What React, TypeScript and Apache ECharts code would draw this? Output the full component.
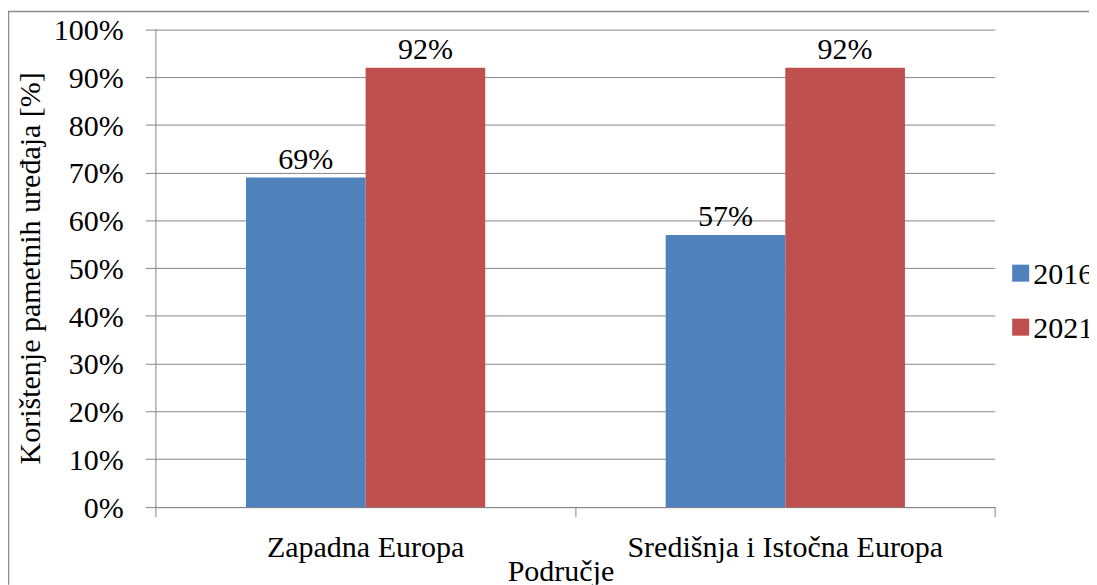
import React, { useEffect, useRef } from "react";
import * as echarts from "echarts";

const categories = ["Zapadna Europa", "Središnja i Istočna Europa"];
const series2016 = [69, 57];
const series2021 = [92, 92];
const seriesNames = ["2016", "2021"];
const yAxisTitle = "Korištenje pametnih uređaja [%]";
const xAxisTitle = "Područje";

const FONT = "Liberation Serif";
const GRID = "#868686";
// render at 1.2x and scale down with CSS so serif fonts are used at 36px
const S = 1.2;
const W = 1089;
const H = 577;
const FS = 30 * S;

export default function App() {
  const ref = useRef<HTMLDivElement>(null);
  useEffect(() => {
    if (!ref.current) return;
    const chart = echarts.init(ref.current, undefined, { renderer: "svg" });
    const lbl = {
      show: true,
      position: "top",
      distance: 4 * S,
      formatter: "{c}%",
      fontFamily: FONT,
      fontSize: FS,
      color: "#000",
    };
    chart.setOption({
      animation: false,
      grid: { left: 147 * S, right: 102 * S, top: 21.5 * S, bottom: 77.5 * S, containLabel: false },
      legend: {
        orient: "vertical",
        left: 1000 * S,
        top: 246 * S,
        itemWidth: 17 * S,
        itemHeight: 17 * S,
        itemGap: 24 * S,
        itemTextGap: 5 * S,
        icon: "rect",
        textStyle: { fontFamily: FONT, fontSize: FS, color: "#000" },
        data: seriesNames,
      },
      xAxis: {
        type: "category",
        data: categories,
        boundaryGap: true,
        axisLine: { lineStyle: { color: GRID, width: S } },
        axisTick: { show: true, length: 10 * S, lineStyle: { color: GRID, width: S } },
        axisLabel: { fontFamily: FONT, fontSize: FS, color: "#000", margin: 24 * S, interval: 0 },
        splitLine: { show: false },
      },
      yAxis: {
        type: "value",
        min: 0,
        max: 100,
        interval: 10,
        name: yAxisTitle,
        nameLocation: "middle",
        nameGap: 102 * S,
        nameTextStyle: { fontFamily: FONT, fontSize: FS, color: "#000" },
        axisLine: { show: true, lineStyle: { color: GRID, width: S } },
        axisTick: { show: true, length: 10 * S, lineStyle: { color: GRID, width: S } },
        axisLabel: { fontFamily: FONT, fontSize: FS, color: "#000", margin: 32 * S, formatter: "{value}%" },
        splitLine: { show: true, lineStyle: { color: GRID, width: S } },
      },
      graphic: [
        {
          type: "rect",
          shape: { x: 0.5 * S, y: 3.5 * S, width: 1100 * S, height: 600 * S },
          style: { fill: "none", stroke: "#8c8c8c", lineWidth: 1.5 * S },
          silent: true,
        },
        {
          type: "text",
          x: 553 * S,
          y: 562 * S,
          style: {
            text: xAxisTitle,
            fontFamily: FONT,
            fontSize: FS,
            fill: "#000",
            align: "center",
            verticalAlign: "middle",
          },
        },
      ],
      series: [
        {
          name: seriesNames[0],
          type: "bar",
          data: series2016,
          barGap: "0%",
          barCategoryGap: "43%",
          itemStyle: { color: "#4F81BD" },
          label: lbl,
        },
        {
          name: seriesNames[1],
          type: "bar",
          data: series2021,
          barGap: "0%",
          barCategoryGap: "43%",
          itemStyle: { color: "#C0504D" },
          label: lbl,
        },
      ],
    });
    return () => chart.dispose();
  }, []);
  return (
    <div style={{ width: W, height: H, overflow: "hidden", position: "relative" }}>
      <div
        ref={ref}
        style={{
          width: W * S,
          height: H * S,
          transform: `scale(${1 / S})`,
          transformOrigin: "0 0",
        }}
      />
    </div>
  );
}
